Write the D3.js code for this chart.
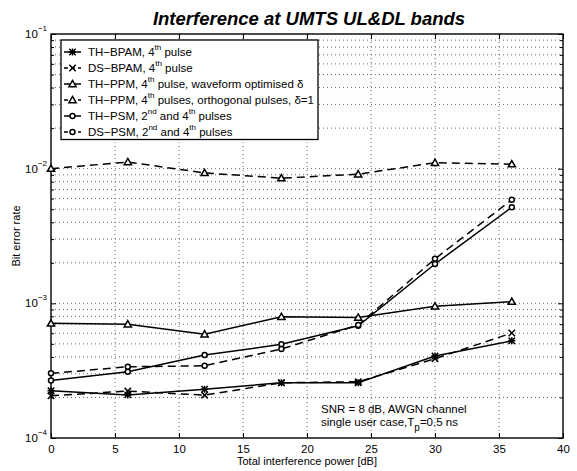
<!DOCTYPE html>
<html>
<head>
<meta charset="utf-8">
<script src="https://cdn.jsdelivr.net/npm/d3@7"></script>
<style>
  html, body { margin: 0; padding: 0; background: #fff; }
  svg text { font-family: "Liberation Sans", Arial, Helvetica, sans-serif; fill: #000; }
</style>
</head>
<body>
<svg id="chart" width="577" height="471"></svg>
<script>
// Interference power in dB at which each BER was simulated
const interferenceDb = [0, 6, 12, 18, 24, 30, 36];

// Bit error rate per scheme
const thBpam    = [2.24e-4, 2.09e-4, 2.30e-4, 2.57e-4, 2.57e-4, 4.06e-4, 5.27e-4];
const dsBpam    = [2.06e-4, 2.23e-4, 2.08e-4, 2.57e-4, 2.62e-4, 3.88e-4, 6.02e-4];
const thPpmOpt  = [7.1e-4, 7.0e-4, 5.9e-4, 7.95e-4, 7.85e-4, 9.5e-4, 1.03e-3];
const thPpmOrth = [1.0e-2, 1.12e-2, 9.3e-3, 8.5e-3, 9.1e-3, 1.107e-2, 1.08e-2];
const thPsm     = [2.67e-4, 3.1e-4, 4.13e-4, 4.96e-4, 6.82e-4, 1.96e-3, 5.16e-3];
const dsPsm     = [3.02e-4, 3.38e-4, 3.44e-4, 4.58e-4, 6.9e-4, 2.14e-3, 5.88e-3];

const xTicks = [0, 5, 10, 15, 20, 25, 30, 35, 40];
const yDecades = [1e-4, 1e-3, 1e-2, 1e-1];
const yDecadeExp = ["−4", "−3", "−2", "−1"];

// legend entries: [label parts, values, dashed, marker]
const series = [
  { parts: [["TH−BPAM, 4"], ["th", 1], [" pulse"]], values: thBpam, dashed: false, marker: "star" },
  { parts: [["DS−BPAM, 4"], ["th", 1], [" pulse"]], values: dsBpam, dashed: true, marker: "x" },
  { parts: [["TH−PPM, 4"], ["th", 1], [" pulse, waveform optimised δ"]], values: thPpmOpt, dashed: false, marker: "tri" },
  { parts: [["TH−PPM, 4"], ["th", 1], [" pulses, orthogonal pulses, δ=1"]], values: thPpmOrth, dashed: true, marker: "tri" },
  { parts: [["TH−PSM, 2"], ["nd", 1], [" and 4"], ["th", 1], [" pulses"]], values: thPsm, dashed: false, marker: "circ" },
  { parts: [["DS−PSM, 2"], ["nd", 1], [" and 4"], ["th", 1], [" pulses"]], values: dsPsm, dashed: true, marker: "circ" }
];

const svg = d3.select("#chart");
const pLeft = 51, pRight = 563, pTop = 34, pBottom = 438;

const x = d3.scaleLinear().domain([0, 40]).range([pLeft, pRight]);
const y = d3.scaleLog().domain([1e-4, 1e-1]).range([pBottom, pTop]);

// minor log positions 2..9 in every decade
const minorTicks = [];
[1e-4, 1e-3, 1e-2].forEach(d => { for (let k = 2; k <= 9; k++) minorTicks.push(d * k); });

// dotted grid
const grid = svg.append("g").attr("stroke", "#555").attr("stroke-width", 0.9)
  .attr("stroke-dasharray", "1,3").attr("fill", "none");
xTicks.filter(t => t > 0 && t < 40).forEach(t => {
  grid.append("line").attr("x1", x(t)).attr("x2", x(t)).attr("y1", pTop).attr("y2", pBottom);
});
minorTicks.concat([1e-3, 1e-2]).forEach(v => {
  grid.append("line").attr("x1", pLeft).attr("x2", pRight).attr("y1", y(v)).attr("y2", y(v));
});

// axes via d3 axis generators, ticks pointing inward
const xAxisB = d3.axisBottom(x).tickValues(xTicks).tickSizeInner(-5).tickSizeOuter(0).tickFormat(d3.format("d"));
const gx = svg.append("g").attr("transform", `translate(0,${pBottom})`).call(xAxisB);
gx.select(".domain").remove();
gx.selectAll("line").attr("stroke", "#000");
gx.selectAll("text").attr("font-size", 11.5).attr("dy", "1.05em")
  .attr("font-family", "Liberation Sans, Arial, sans-serif");

const xAxisT = d3.axisTop(x).tickValues(xTicks).tickSizeInner(-5).tickSizeOuter(0).tickFormat("");
const gxt = svg.append("g").attr("transform", `translate(0,${pTop})`).call(xAxisT);
gxt.select(".domain").remove();
gxt.selectAll("line").attr("stroke", "#000");

function yTicksSide(gen, xPos) {
  const gMaj = svg.append("g").attr("transform", `translate(${xPos},0)`)
    .call(gen(y).tickValues(yDecades).tickSizeInner(-5).tickSizeOuter(0).tickFormat(""));
  gMaj.select(".domain").remove();
  gMaj.selectAll("line").attr("stroke", "#000");
  const gMin = svg.append("g").attr("transform", `translate(${xPos},0)`)
    .call(gen(y).tickValues(minorTicks).tickSizeInner(-3).tickSizeOuter(0).tickFormat(""));
  gMin.select(".domain").remove();
  gMin.selectAll("line").attr("stroke", "#000");
}
yTicksSide(d3.axisLeft, pLeft);
yTicksSide(d3.axisRight, pRight);

// y tick labels as 10 with superscript exponent
yDecades.forEach((v, i) => {
  const t = svg.append("text").attr("text-anchor", "end")
    .attr("x", pLeft - 4).attr("y", y(v) + 4).attr("font-size", 11.5);
  t.append("tspan").text("10");
  t.append("tspan").attr("font-size", 8).attr("dy", -7).text(yDecadeExp[i]);
});

// frame
svg.append("rect").attr("x", pLeft).attr("y", pTop).attr("width", pRight - pLeft).attr("height", pBottom - pTop)
  .attr("fill", "none").attr("stroke", "#000").attr("stroke-width", 1.4);

// markers
function drawMarker(g, type, cx, cy, dashed) {
  const s = g.append("g").attr("transform", `translate(${cx},${cy})`)
    .attr("stroke", "#000").attr("stroke-width", 1.5).attr("fill", "none");
  if (type === "x" || type === "star") {
    const r = 3.2;
    s.append("path").attr("d", `M${-r},${-r}L${r},${r}M${-r},${r}L${r},${-r}`);
    if (type === "star") s.append("path").attr("d", `M0,${-r - 0.3}L0,${r + 0.3}M${-r - 0.3},0L${r + 0.3},0`);
  } else if (type === "tri") {
    const r = 3.6;
    s.append("path").attr("d", `M0,${-r}L${r},${r * 0.75}L${-r},${r * 0.75}Z`).attr("fill", "#fff");
  } else if (type === "circ") {
    s.append("circle").attr("r", 2.5).attr("fill", "#fff");
  }
}

const line = d3.line().x((d, i) => x(interferenceDb[i])).y(d => y(d));
const plotG = svg.append("g");
series.forEach(sr => {
  plotG.append("path").datum(sr.values).attr("d", line).attr("fill", "none")
    .attr("stroke", "#000").attr("stroke-width", 1.5)
    .attr("stroke-dasharray", sr.dashed ? "8,5" : null);
});
series.forEach(sr => {
  sr.values.forEach((v, i) => drawMarker(plotG, sr.marker, x(interferenceDb[i]), y(v), sr.dashed));
});

// legend
const lg = svg.append("g");
lg.append("rect").attr("x", 61).attr("y", 40).attr("width", 257).attr("height", 99.5)
  .attr("fill", "#fff").attr("stroke", "#000").attr("stroke-width", 1.3);
series.forEach((sr, i) => {
  const ry = 52 + 16 * i;
  lg.append("line").attr("x1", 64).attr("x2", 81).attr("y1", ry).attr("y2", ry)
    .attr("stroke", "#000").attr("stroke-width", 1.5)
    .attr("stroke-dasharray", sr.dashed ? "4,3" : null);
  drawMarker(lg, sr.marker, 72.5, ry, sr.dashed);
  const t = lg.append("text").attr("x", 88).attr("y", ry + 4).attr("font-size", 11.5);
  sr.parts.forEach(p => {
    if (p[1]) t.append("tspan").attr("font-size", 8).attr("baseline-shift", "6").text(p[0]);
    else t.append("tspan").text(p[0]);
  });
});

// title and axis labels
svg.append("text").attr("x", (pLeft + pRight) / 2 + 2).attr("y", 25).attr("text-anchor", "middle")
  .attr("font-size", 18.5).attr("font-weight", "bold").attr("font-style", "italic")
  .text("Interference at UMTS UL&DL bands");
svg.append("text").attr("x", (pLeft + pRight) / 2).attr("y", 465).attr("text-anchor", "middle")
  .attr("font-size", 11).text("Total interference power [dB]");
svg.append("text").attr("transform", `translate(20,${(pTop + pBottom) / 2}) rotate(-90)`)
  .attr("text-anchor", "middle").attr("font-size", 11).text("Bit error rate");

// annotation
const ann = svg.append("text").attr("x", 321).attr("y", 413).attr("font-size", 11.5);
ann.text("SNR = 8 dB, AWGN channel");
const ann2 = svg.append("text").attr("x", 321).attr("y", 426).attr("font-size", 11.5);
ann2.append("tspan").text("single user case,T");
ann2.append("tspan").attr("font-size", 10).attr("dy", 5).text("p");
ann2.append("tspan").attr("dy", -5).text("=0.5 ns");
</script>
</body>
</html>
